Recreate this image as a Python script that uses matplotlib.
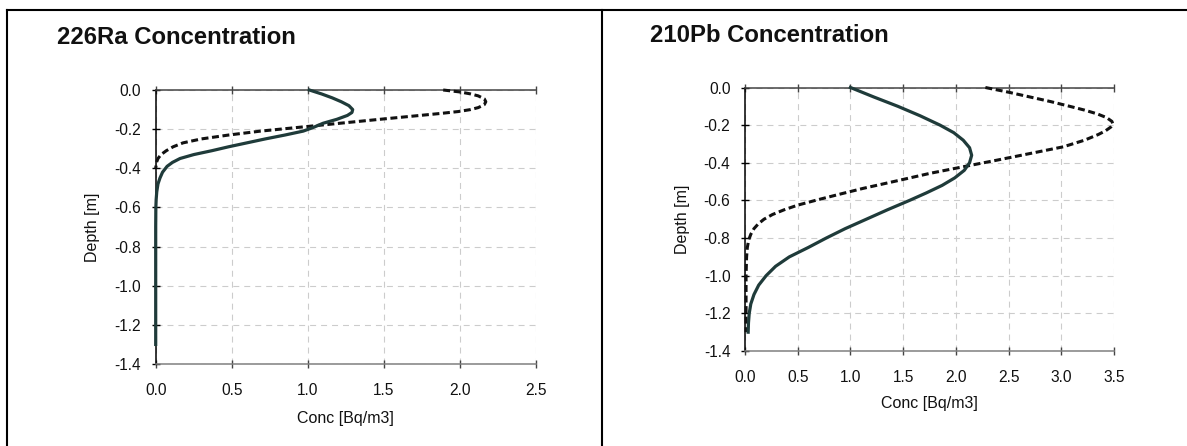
import matplotlib
matplotlib.use("Agg")
import matplotlib.pyplot as plt
from matplotlib.ticker import FormatStrFormatter, MultipleLocator
from matplotlib.lines import Line2D

plt.rcParams['font.family'] = ['Liberation Sans', 'DejaVu Sans']
plt.rcParams['axes.unicode_minus'] = False
plt.rcParams['lines.scale_dashes'] = False

# ---------------- data ----------------
titles = ["226Ra Concentration", "210Pb Concentration"]
xlabel = "Conc [Bq/m3]"
ylabel = "Depth [m]"
xmax = [2.5, 3.5]

# 226Ra - solid
ra_solid_depth = [0, -0.02, -0.04, -0.06, -0.08, -0.10, -0.115, -0.13, -0.15, -0.17,
                  -0.19, -0.21, -0.23, -0.25, -0.27, -0.29, -0.31, -0.33, -0.35, -0.37,
                  -0.39, -0.42, -0.45, -0.48, -0.52, -0.56, -0.6, -0.7, -1.3]
ra_solid_conc = [1.01, 1.09, 1.16, 1.22, 1.27, 1.295, 1.29, 1.26, 1.19, 1.10,
                 1.04, 0.97, 0.85, 0.72, 0.60, 0.48, 0.37, 0.25, 0.16, 0.11,
                 0.075, 0.045, 0.028, 0.015, 0.007, 0.003, 0.001, 0.0, 0.0]
# 226Ra - dashed
ra_dash_depth = [0, -0.01, -0.02, -0.03, -0.045, -0.06, -0.075, -0.09, -0.10, -0.11,
                 -0.12, -0.135, -0.15, -0.17, -0.19, -0.21, -0.23, -0.25, -0.27, -0.29,
                 -0.31, -0.33, -0.35, -0.37, -0.4]
ra_dash_conc = [1.89, 2.0, 2.07, 2.12, 2.16, 2.17, 2.16, 2.12, 2.07, 1.99,
                1.87, 1.67, 1.47, 1.21, 0.95, 0.69, 0.48, 0.30, 0.18, 0.115,
                0.07, 0.035, 0.015, 0.005, 0.0]

# 210Pb - solid
pb_solid_depth = [0, -0.05, -0.10, -0.15, -0.20, -0.24, -0.28, -0.32, -0.36, -0.40,
                  -0.44, -0.48, -0.52, -0.56, -0.60, -0.65, -0.70, -0.75, -0.80, -0.85,
                  -0.90, -0.95, -1.00, -1.05, -1.10, -1.15, -1.20, -1.25, -1.30]
pb_solid_conc = [1.0, 1.22, 1.45, 1.66, 1.85, 1.98, 2.07, 2.13, 2.15, 2.13,
                 2.08, 1.99, 1.87, 1.72, 1.56, 1.35, 1.15, 0.95, 0.77, 0.60,
                 0.42, 0.29, 0.20, 0.13, 0.085, 0.055, 0.04, 0.033, 0.03]
# 210Pb - dashed
pb_dash_depth = [0, -0.025, -0.05, -0.075, -0.10, -0.12, -0.14, -0.16, -0.18, -0.195,
                 -0.21, -0.23, -0.25, -0.28, -0.315, -0.35, -0.386, -0.42, -0.456, -0.496,
                 -0.536, -0.568, -0.598, -0.625, -0.65, -0.675, -0.70, -0.725, -0.75, -0.78,
                 -0.81, -0.85, -0.9, -1.0, -1.3]
pb_dash_conc = [2.28, 2.50, 2.70, 2.90, 3.08, 3.22, 3.34, 3.43, 3.48, 3.49,
                3.47, 3.42, 3.35, 3.22, 3.02, 2.71, 2.39, 2.08, 1.755, 1.44,
                1.12, 0.89, 0.68, 0.50, 0.37, 0.26, 0.18, 0.125, 0.085, 0.055,
                0.035, 0.022, 0.015, 0.01, 0.01]

# ---------------- figure ----------------
W, H = 1187, 446
fig = plt.figure(figsize=(W / 100, H / 100), dpi=100)

def box(l, t, r, b):
    return [l / W, 1 - b / H, (r - l) / W, (b - t) / H]

axes_px = [(155.7, 90, 536, 364), (745, 87.5, 1114, 351)]
title_px = [(57, 37), (650, 36)]
series = [((ra_solid_conc, ra_solid_depth), (ra_dash_conc, ra_dash_depth)),
          ((pb_solid_conc, pb_solid_depth), (pb_dash_conc, pb_dash_depth))]

SOLID = '#1f3b3a'
for i in range(2):
    ax = fig.add_axes(box(*axes_px[i]))
    (sx, sy), (dx, dy) = series[i]
    ax.plot(dx, dy, color='#111111', lw=2.2, linestyle=(0, (5.0, 2.6)),
            solid_capstyle='butt', dash_joinstyle='round', zorder=3, clip_on=False)
    ax.plot(sx, sy, color=SOLID, lw=2.3, solid_joinstyle='round', zorder=4, clip_on=False)

    ax.set_xlim(0, xmax[i])
    ax.set_ylim(-1.4, 0)
    ax.xaxis.set_major_locator(MultipleLocator(0.5))
    ax.yaxis.set_major_locator(MultipleLocator(0.2))
    ax.xaxis.set_major_formatter(FormatStrFormatter('%.1f'))
    ax.yaxis.set_major_formatter(FormatStrFormatter('%.1f'))

    ax.grid(True, color='#cccccc', lw=0.8, linestyle=(0, (4.3, 3.6)))
    ax.set_axisbelow(True)

    ax.spines['right'].set_visible(False)
    ax.spines['left'].set_color('black')
    ax.spines['left'].set_linewidth(1.1)
    ax.spines['top'].set_color('#444444')
    ax.spines['top'].set_linewidth(1.1)
    ax.spines['bottom'].set_color('#808080')
    ax.spines['bottom'].set_linewidth(1.1)

    ax.tick_params(axis='x', which='both', top=True, bottom=True, direction='inout',
                   length=6, width=1.0, color='#444444', labelsize=11.2, pad=10.5,
                   labelcolor='#111111')
    ax.tick_params(axis='y', which='both', left=True, direction='inout',
                   length=6, width=1.0, color='black', labelsize=11.2, pad=7.5,
                   labelcolor='#111111')

    ax.set_xlabel(xlabel, fontsize=11.5, color='#111111')
    ax.set_ylabel(ylabel, fontsize=11.5, color='#111111')
    l, t, r, b = axes_px[i]
    ax.xaxis.set_label_coords(0.5, -0.20)
    ax.xaxis.label.set_va('center')
    ax.yaxis.set_label_coords(-63 / (r - l), 0.5)
    ax.yaxis.label.set_va('center')
    ax.yaxis.label.set_ha('center')

    tx, ty = title_px[i]
    fig.text(tx / W, 1 - ty / H, titles[i], fontsize=17.2, fontweight='bold',
             ha='left', va='center', color='#111111')

# outer frame
lw_frame = 1.5
fig.add_artist(Line2D([7 / W, 1], [1 - 10 / H, 1 - 10 / H], color='black', lw=lw_frame,
                      transform=fig.transFigure))
fig.add_artist(Line2D([7 / W, 7 / W], [0, 1 - 10 / H], color='black', lw=lw_frame,
                      transform=fig.transFigure))
fig.add_artist(Line2D([602 / W, 602 / W], [0, 1 - 10 / H], color='black', lw=lw_frame,
                      transform=fig.transFigure))

fig.savefig('out.png', dpi=100)
